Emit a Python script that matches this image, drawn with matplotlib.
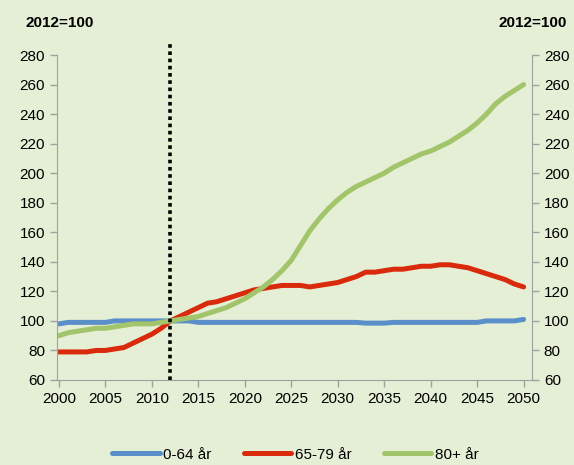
import numpy as np
import matplotlib.pyplot as plt

plt.rcParams['font.family'] = ['Liberation Sans', 'DejaVu Sans']
FS = 11
BG = '#E4EFD6'
AXC = '#A0A0A0'

years = list(range(2000, 2051))
age_0_64 = [98, 99, 99, 99, 99, 99, 100, 100, 100, 100,
            100, 100, 100, 100, 100, 99, 99, 99, 99, 99,
            99, 99, 99, 99, 99, 99, 99, 99, 99, 99,
            99, 99, 99, 98.5, 98.5, 98.5, 99, 99, 99, 99,
            99, 99, 99, 99, 99, 99, 100, 100, 100, 100,
            101]
age_65_79 = [79, 79, 79, 79, 80, 80, 81, 82, 85, 88,
             91, 95, 100, 103, 106, 109, 112, 113, 115, 117,
             119, 121, 122, 123, 124, 124, 124, 123, 124, 125,
             126, 128, 130, 133, 133, 134, 135, 135, 136, 137,
             137, 138, 138, 137, 136, 134, 132, 130, 128, 125,
             123]
age_80 = [90, 92, 93, 94, 95, 95, 96, 97, 98, 98,
          98, 99, 100, 101, 102, 103, 105, 107, 109, 112,
          115, 119, 123, 128, 134, 141, 151, 161, 169, 176,
          182, 187, 191, 194, 197, 200, 204, 207, 210, 213,
          215, 218, 221, 225, 229, 234, 240, 247, 252, 256,
          260]
labels = ['0-64 år', '65-79 år', '80+ år']
colors = ['#5B8FC9', '#D92A0C', '#A2C46A']

fig = plt.figure(figsize=(5.74, 4.65), dpi=100, facecolor=BG)
ax = fig.add_axes([0.0993, 0.1828, 0.8275, 0.6989])
ax.set_facecolor(BG)

for vals, lab, c in zip([age_0_64, age_65_79, age_80], labels, colors):
    ax.plot(years, vals, color=c, lw=3.6, label=lab, solid_capstyle='round')

ax.axvline(2012, ymin=0, ymax=1.037, color='black', lw=2.6,
           linestyle=(0, (1, 1)), clip_on=False, zorder=5)

ax.set_xlim(1999.8, 2050.9)
ax.set_ylim(60, 280)
ax.set_xticks(range(2000, 2051, 5))
ax.set_yticks(range(60, 281, 20))

ax2 = ax.twinx()
ax2.set_ylim(60, 280)
ax2.set_yticks(range(60, 281, 20))

for a in (ax, ax2):
    for s in a.spines.values():
        s.set_color(AXC)
    a.spines['top'].set_visible(False)
    a.tick_params(colors=AXC, labelcolor='black', labelsize=FS, length=5, width=1)
ax.spines['right'].set_visible(False)
ax2.spines['left'].set_visible(False)
ax2.spines['bottom'].set_visible(False)

fig.text(0.044, 0.951, '2012=100', fontsize=FS, fontweight='bold', va='center')
fig.text(0.988, 0.951, '2012=100', fontsize=FS, fontweight='bold', va='center', ha='right')

fig.legend(*ax.get_legend_handles_labels(), loc='center', bbox_to_anchor=(0.515, 0.022),
           ncol=3, frameon=False, fontsize=FS, handlelength=3.1, handletextpad=0.25,
           columnspacing=2.1)

fig.savefig('out.png', dpi=100, facecolor=BG)
